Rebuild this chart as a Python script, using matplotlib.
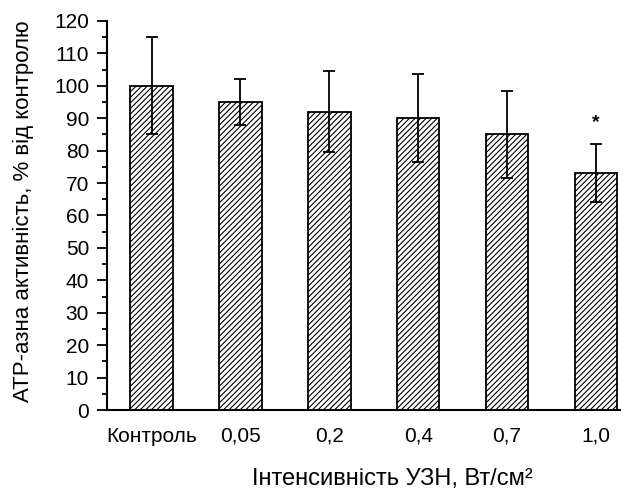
import numpy as np
from matplotlib import pyplot as plt
from matplotlib.ticker import MultipleLocator

plt.rcParams['font.family'] = ['Liberation Sans', 'DejaVu Sans']
plt.rcParams['hatch.linewidth'] = 0.8

labels = ['Контроль', '0,05', '0,2', '0,4', '0,7', '1,0']
values = [100, 95, 92, 90, 85, 73]
errors = [15, 7, 12.5, 13.5, 13.5, 9]
star_idx = 5
star_y = 86

x = np.arange(len(labels))

fig = plt.figure(figsize=(6.3, 4.97), dpi=100)
ax = fig.add_axes([0.17, 0.175, 0.814, 0.783])

ax.bar(x, values, width=0.48, color='white', edgecolor='black', linewidth=1.3, hatch='//////')
ax.errorbar(x, values, yerr=errors, fmt='none', ecolor='black', elinewidth=1.3, capsize=4, capthick=1.3)
ax.text(x[star_idx], star_y, '*', ha='center', va='bottom', fontsize=14, fontweight='bold')

ax.set_xlim(-0.5, 5.27)
ax.set_ylim(0, 120)
ax.yaxis.set_major_locator(MultipleLocator(10))
ax.yaxis.set_minor_locator(MultipleLocator(5))
ax.set_xticks(x)
ax.set_xticklabels(labels)
ax.tick_params(axis='x', length=0, pad=12, labelsize=15)
ax.tick_params(axis='y', which='major', length=7, width=1.3, labelsize=15, pad=6)
ax.tick_params(axis='y', which='minor', length=3.5, width=1.3)
for s in ['top', 'right']:
    ax.spines[s].set_visible(False)
for s in ['left', 'bottom']:
    ax.spines[s].set_linewidth(1.5)

ax.set_ylabel('АТР-азна активність, % від контролю', fontsize=16)
ax.yaxis.set_label_coords(-0.142, 0.51)
ax.set_xlabel('Інтенсивність УЗН, Вт/см²', fontsize=17)
ax.xaxis.set_label_coords(0.556, -0.15)

plt.savefig('out.png')
plt.close()
